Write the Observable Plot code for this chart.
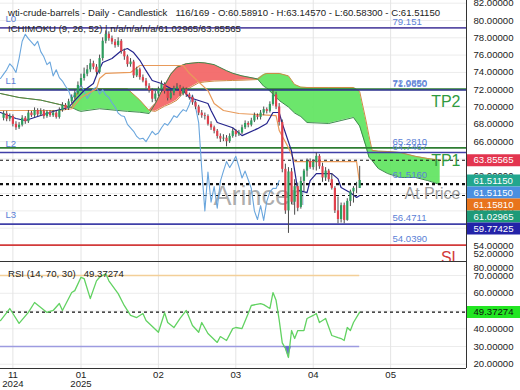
<!DOCTYPE html>
<html><head><meta charset="utf-8">
<script src="https://cdn.jsdelivr.net/npm/d3@7"></script>
<script src="https://cdn.jsdelivr.net/npm/@observablehq/plot@0.6"></script>
<style>
body{margin:0;background:#fff;font-family:"Liberation Sans",Arial,sans-serif;}
#wrap{position:relative;width:520px;height:390px;overflow:hidden;background:#fff;}
#wrap svg{display:block;}
.t{position:absolute;left:8px;font-size:9.6px;line-height:12px;color:#222;white-space:pre;}
</style></head><body>
<div id="wrap"></div>
<script>
// ---------- data ----------
const open = [68.7,69.2,68.6,68.9,68.0,67.6,67.9,68.7,68.3,69.3, 69.0,69.6,69.1,69.5,68.9,69.4,69.0,69.3,68.8,69.6, 70.2,69.8,70.6,71.1,71.6,72.5,73.3,73.8,74.3,75.0, 74.6,74.0,75.6,77.6,78.4,77.9,77.5,77.1,77.6,76.4, 75.8,74.9,75.2,73.6,74.3,73.4,73.0,72.4,71.9,70.9, 71.5,72.0,72.6,71.8,71.0,71.6,72.1,72.3,71.5,72.0, 71.4,71.1,70.5,70.0,69.3,69.0,68.9,68.0,67.6,67.2, 66.6,66.3,66.4,66.0,66.6,67.2,66.8,67.0,67.6,68.1, 67.9,68.4,69.0,68.8,69.3,69.7,69.5,70.3,71.4,70.0, 68.2,62.8,58.0,62.5,59.0,60.8,58.4,61.4,62.6,63.7, 63.0,63.6,64.3,63.1,61.8,62.6,61.6,60.6,58.0,57.0, 58.6,56.9,59.1,60.2,60.6,60.5891];
const high = [69.5,69.5,69.2,69.1,68.3,68.2,69.0,68.9,69.6,69.5, 69.9,69.8,69.8,69.7,69.6,69.6,69.6,69.5,69.9,70.5, 70.4,70.9,71.4,72.0,72.9,73.8,74.5,74.8,75.5,75.3, 74.9,76.0,78.0,78.8,78.7,78.2,77.8,78.0,77.8,76.7, 76.0,75.6,75.4,74.6,74.5,73.7,73.3,72.7,72.1,71.8, 72.3,73.0,72.8,72.0,71.9,72.4,72.7,72.5,72.3,72.2, 71.6,71.3,70.7,70.2,69.6,69.3,69.1,68.3,67.8,67.4, 66.9,66.8,66.7,66.9,67.5,67.4,67.3,67.9,68.4,68.3, 68.7,69.3,69.2,69.6,70.0,69.9,70.6,72.0,71.7,70.4, 68.5,63.4,63.0,62.9,61.6,61.2,61.9,62.8,64.0,64.0, 63.9,64.7,64.5,63.5,63.0,62.8,62.3,60.8,59.6,58.9, 58.9,59.4,60.4,60.8,61.3,63.1457];
const low = [68.4,68.3,68.3,67.7,67.3,67.4,67.7,68.0,68.1,68.8, 68.8,68.9,68.9,68.6,68.7,68.8,68.8,68.6,68.6,69.4, 69.6,69.6,70.4,70.9,71.4,72.2,73.0,73.5,74.0,74.3, 73.6,73.8,75.3,77.3,77.6,77.2,76.8,76.9,76.1,75.4, 74.6,74.6,73.3,73.4,73.1,72.8,72.1,71.6,70.5,70.6, 71.2,71.7,71.5,70.7,70.8,71.3,71.8,71.2,71.3,71.1, 70.8,70.2,69.7,69.0,68.7,68.5,67.8,67.3,66.9,66.3, 65.9,66.0,65.4,65.8,66.4,66.5,66.6,66.8,67.4,67.6, 67.7,68.2,68.5,68.5,69.0,69.2,69.3,70.1,69.7,67.8, 62.4,57.6,55.4,58.7,57.5,57.9,58.2,60.2,61.9,62.8, 62.7,62.6,62.8,61.3,61.4,61.3,60.4,57.7,56.5,56.6, 56.5,56.8,58.5,58.9,60.0,60.583];
const close = [69.2,68.6,68.9,68.0,67.6,67.9,68.7,68.3,69.3,69.0, 69.6,69.1,69.5,68.9,69.4,69.0,69.3,68.8,69.6,70.2, 69.8,70.6,71.1,71.6,72.5,73.3,73.8,74.3,75.0,74.6, 74.0,75.6,77.6,78.4,77.9,77.5,77.1,77.6,76.4,75.8, 74.9,75.2,73.6,74.3,73.4,73.0,72.4,71.9,70.9,71.5, 72.0,72.6,71.8,71.0,71.6,72.1,72.3,71.5,72.0,71.4, 71.1,70.5,70.0,69.3,69.0,68.9,68.0,67.6,67.2,66.6, 66.3,66.4,66.0,66.6,67.2,66.8,67.0,67.6,68.1,67.9, 68.4,69.0,68.8,69.3,69.7,69.5,70.3,71.4,70.0,68.2, 62.8,58.0,62.5,59.0,60.8,58.3,61.4,62.6,63.7,63.0, 63.6,64.3,63.1,61.8,62.6,61.6,60.6,58.0,57.0,58.6, 56.9,59.1,60.2,60.6,60.59,61.5115];

const tenkanIdx = [-1,4,7,12,17,21,23,26,29,30,32,35,38,40,42,44,46,48,51,54,58,60,66,67,69,74,77,82,85,87,89,90,93,95,98,99,101,106,108,109,112,114,115];
const tenkanVal = [69.37,68.67,68.44,69.02,69.6,69.95,70.76,71.91,72.72,73.64,75.15,75.6,76.5,76.76,76.3,75.4,74.2,73.07,72.72,72.14,71.91,71.1,70.41,69.6,68.21,67.6,66.7,67.5,68.1,69.37,69.37,68.1,64.9,60.4,60.1,61.5,62.3,62.3,61.7,60.7,60.1,59.55,59.77425];
const kijunIdx = [-1,18,22,25,30,31,33,41,44,58,60,66,68,71,76,88,89,92,94,114,115];
const kijunVal = [69.6,69.6,69.8,71.1,72.1,73.3,73.9,74.0,74.8,74.8,73.9,71.9,70.4,69.6,69.25,69.0,67.3,65.3,63.7,63.7,61.158];
const spanIdx = [-1,5,12,18,22,24,25,31,40,44,47,49,52,54,56,59,63,65,68,72,74,77,82,84,85,89,92,94,96,98,105,109,113,115,117,118,119,121,124,128,133,137,141];
const spanA = [71.56,71.10,70.80,70.30,69.95,71.9,72.1,72.1,72.1,70.8,69.6,69.5,70.1,70.4,70.8,72.0,72.8,72.9,73.0,73.05,73.07,73.1,73.18,73.76,73.88,73.88,73.6,72.6,72.3,72.26,72.26,72.26,72.26,71.8,68.5,66.7,65.0,64.9,64.86,64.75,64.3,64.05,63.86];
const spanB = [71.56,71.10,70.80,70.30,69.95,69.6,69.5,69.8,69.5,69.4,69.25,70.4,72.5,73.8,74.6,75.0,75.15,75.1,74.9,74.2,73.9,73.6,73.25,72.4,72.2,70.76,70.0,69.3,68.9,68.21,68.10,68.44,68.79,67.8,65.5,64.2,63.82,62.9,62.32,61.86,61.86,61.5,61.03];
const chikouShift = 26;

const rsiIdx = [-1,2,3,5,8,10,12,14,16,18,19,22,23,25,26,28,30,31,33,34,37,39,41,43,45,46,50,52,53,55,57,59,61,63,64,66,69,70,72,74,75,77,79,80,83,84,86,87,88,89,90,91,92,93,94,95,97,98,100,101,102,104,106,108,109,110,111,112,113,115];
const rsiVal = [44.6,51.4,48.6,43,49.2,54.8,52,49.2,50.3,54.2,50.3,60.4,61.5,69,68.3,57,67,69,71,67,59.8,53,47.5,46.3,48.6,44.6,38,49,43.5,40.7,45.8,50.3,41.8,38,43.5,37.3,32.3,35.6,33.4,40.1,40.7,40.1,48.6,53.1,54.2,53.6,51.4,60.4,56,45,32,29,23.8,39,34.5,39,39,45.8,47.5,48.6,43.5,45.8,36.2,35,34.5,33.4,40.7,39,43.5,49.37274];
const rsiLast = 49.37274;
const rsiBands = [70, 30];

const monthIdx = [3, 25, 50, 75, 100, 125];
const monthLbl = ["11\n2024", "01\n2025", "02", "03", "04", "05"];
const priceTicks = [52,54,56,58,60,62,64,66,68,70,72,74,76,78,80,82];
const rsiTicks = [20,30,40,60,70,80];
const rsiGrid = [20,30,40,50,60,70];

const levelVals = [79.151, 72.085, 71.965, 65.281, 64.7467, 61.516, 56.4711, 54.039];
const levelTxt = ["79.151","72.0850","71.9650","65.2810","64.7467","61.5160","56.4711","54.0390"];
const levelLine = [true, true, true, true, true, false, true, true];
const levelColor = ["#5b4fa6","#2e7d32","#2a2f8f","#2e7d32","#4040a8","none","#4040a8","#d23a3a"];
const lNames = ["L0","L1","L2","L3"];
const lVals = [79.151, 71.965, 64.7467, 56.4711];
const markNames = ["TP2","TP1","At Price","SL"];
const markVals = [72.085, 65.281, 61.516, 54.039];
const markColor = ["#2e9a3e","#2e9a3e","#9a9a9a","#d23a3a"];
const dottedVals = [63.85565, 61.1581, 61.02965, 59.77425];
const tagVals = [63.85565, 61.5115, 61.5115, 61.1581, 61.02965, 59.77425];
const tagColor = ["#e3354f","#22a68e","#4a8fe0","#e8741c","#1d9a78","#2323a8"];

// ---------- layout ----------
const W = 520, MR = 54, PW = W - MR;
const MAIN_H = 261, RSI_H = 129, RSI_MB = 22;
const xDomain = [-1, 149.5];
const yMain = [52.15, 82.31];
const yRsi = [17.6, 77.9];
const pxMain = MAIN_H / (yMain[1] - yMain[0]);
const pxRsi = (RSI_H - RSI_MB) / (yRsi[1] - yRsi[0]);
const FONT = "'Liberation Sans', Arial, sans-serif";
const xs = Plot.scale({x: {domain: xDomain, range: [0, PW]}});
const xBoxL = xs.invert(PW + 1), xBoxR = xs.invert(W);
const lastIdx = close.length - 1;

const candles = close.map((c, k) => ({i: k, o: open[k], h: high[k], l: low[k], c}));
const cloud = spanIdx.map((k, j) => ({i: k, a: spanA[j], b: spanB[j]}));
const tenkan = tenkanIdx.map((k, j) => ({i: k, v: tenkanVal[j]}));
const kijun = kijunIdx.map((k, j) => ({i: k, v: kijunVal[j]}));
const chikou = close.map((c, k) => ({i: k - chikouShift, v: c})).filter(d => d.i >= -1);
const rsi = rsiIdx.map((k, j) => ({i: k, v: rsiVal[j]}));
const levels = levelVals.map((v, k) => ({v, t: levelTxt[k], line: levelLine[k], col: levelColor[k]}));
let prevTag = Infinity;
const tags = tagVals.map((v, k) => {
  const ly = Math.min(v, prevTag - 12 / pxMain); prevTag = ly;
  return {v, ly, col: tagColor[k], t: v.toFixed(5)};
});
const months = monthIdx.map((i, k) => ({i, t: monthLbl[k]}));

const up = "#2e9d5e", down = "#e0404c";

const main = Plot.plot({
  width: W, height: MAIN_H,
  marginLeft: 0, marginRight: MR, marginTop: 0, marginBottom: 0,
  x: {domain: xDomain, axis: null},
  y: {domain: yMain, axis: null},
  color: {type: "identity"},
  style: {fontFamily: FONT, overflow: "hidden", background: "#fff"},
  marks: [
    Plot.ruleY(priceTicks, {stroke: "#ececec"}),
    Plot.ruleX(monthIdx, {stroke: "#e4e4e4"}),
    Plot.areaY(cloud, {x: "i", y1: "b", y2: d => Math.max(d.a, d.b), fill: "#5fe45f", fillOpacity: 0.92}),
    Plot.areaY(cloud, {x: "i", y1: "a", y2: d => Math.max(d.a, d.b), fill: "#f36464", fillOpacity: 0.92}),
    Plot.lineY(cloud, {x: "i", y: "a", stroke: "#cf8a45", strokeWidth: 1}),
    Plot.lineY(cloud, {x: "i", y: "b", stroke: "#3d8a4c", strokeWidth: 1}),
    Plot.text(["Arincen"], {frameAnchor: "middle", textAnchor: "start", dx: -20, dy: 65, fontSize: 27, fill: "#777", fillOpacity: 0.6}),
    Plot.ruleY(levels.filter(d => d.line), {y: "v", stroke: d => d.col, strokeWidth: 1.6}),
    Plot.ruleY(dottedVals, {stroke: "#111", strokeDasharray: "3,3", strokeWidth: 1.1}),
    Plot.lineY(chikou, {x: "i", y: "v", stroke: "#6aa6dd", strokeWidth: 1.1}),
    Plot.lineY(kijun, {x: "i", y: "v", stroke: "#e89a5a", strokeWidth: 1.2}),
    Plot.lineY(tenkan, {x: "i", y: "v", stroke: "#23238c", strokeWidth: 1.2}),
    Plot.ruleX(candles, {x: "i", y1: "l", y2: "h", stroke: "#4a4a4a", strokeWidth: 1}),
    Plot.ruleX(candles, {x: "i", y1: "o", y2: "c", stroke: d => d.c >= d.o ? up : down, strokeWidth: 2.2}),
    Plot.text(levels, {y: "v", text: "t", frameAnchor: "right", textAnchor: "start", dx: -74, dy: -6, fontSize: 9.6, fill: "#5b7fd6"}),
    Plot.text(lNames, {y: (d, k) => lVals[k], text: d => d, frameAnchor: "left", textAnchor: "start", dx: 5, dy: -9, fontSize: 9.6, fill: "#5b7fd6"}),
    Plot.text(markNames, {y: (d, k) => markVals[k], text: d => d, frameAnchor: "right", textAnchor: "end", dx: -6, dy: 13, fontSize: 16, fill: (d, k) => markColor[k]}),
    Plot.ruleX([xDomain[1]], {stroke: "#333"}),
    Plot.text(priceTicks, {x: xDomain[1], y: d => Math.max(d, yMain[0] + 8 / pxMain), text: d => d.toFixed(5), textAnchor: "start", dx: 7, fontSize: 9.6, fill: "#222"}),
    Plot.ruleY(tags, {y: "ly", x1: xBoxL, x2: xBoxR, stroke: "col", strokeWidth: 12}),
    Plot.text(tags, {x: xDomain[1], y: "ly", text: "t", textAnchor: "start", dx: 7, fontSize: 9.6, fill: "#fff"})
  ]
});

const rsiPlot = Plot.plot({
  width: W, height: RSI_H,
  marginLeft: 0, marginRight: MR, marginTop: 0, marginBottom: RSI_MB,
  x: {domain: xDomain, axis: null},
  y: {domain: yRsi, axis: null},
  style: {fontFamily: FONT, overflow: "hidden", background: "#fff"},
  marks: [
    Plot.ruleY(rsiGrid, {stroke: "#ececec"}),
    Plot.ruleX(monthIdx, {stroke: "#e4e4e4"}),
    Plot.ruleY([rsiBands[0]], {x1: rsiIdx[0], x2: lastIdx, stroke: "#f3cf98", strokeWidth: 1.3}),
    Plot.ruleY([rsiBands[1]], {x1: rsiIdx[0], x2: lastIdx, stroke: "#9d9be0", strokeWidth: 1.3}),
    Plot.areaY(rsi, {x: "i", y1: rsiBands[1], y2: d => Math.min(d.v, rsiBands[1]), fill: "#6d6dd6"}),
    Plot.ruleY([rsiLast], {stroke: "#111", strokeDasharray: "3,3", strokeWidth: 1.1}),
    Plot.lineY(rsi, {x: "i", y: "v", stroke: "#62d262", strokeWidth: 1.3}),
    Plot.ruleY([yRsi[1]], {stroke: "#333"}),
    Plot.ruleY([yRsi[0]], {stroke: "#333"}),
    Plot.ruleX([xDomain[1]], {stroke: "#333"}),
    Plot.text(rsiTicks, {x: xDomain[1], y: d => Math.min(d, yRsi[1] - 6 / pxRsi), text: d => d.toFixed(5), textAnchor: "start", dx: 7, fontSize: 9.6, fill: "#222"}),
    Plot.ruleY([rsiLast], {x1: xBoxL, x2: xBoxR, stroke: "#22e622", strokeWidth: 12}),
    Plot.text([rsiLast], {x: xDomain[1], y: d => d, text: d => d.toFixed(5), textAnchor: "start", dx: 7, fontSize: 9.6, fill: "#111"}),
    Plot.text(months, {x: "i", text: "t", frameAnchor: "bottom", lineAnchor: "top", dy: 3, fontSize: 9.6, lineHeight: 0.95, fill: "#222"})
  ]
});

const wrap = document.getElementById("wrap");
wrap.appendChild(main);
wrap.appendChild(rsiPlot);
const addText = (txt, top) => {
  const d = document.createElement("div");
  d.className = "t"; d.style.top = top + "px"; d.textContent = txt; wrap.appendChild(d);
};
addText("wti-crude-barrels - Daily - Candlestick   116/169 - O:60.58910 - H:63.14570 - L:60.58300 - C:61.51150", 7);
addText("ICHIMOKU (9, 26, 52) | n/a/n/a/n/a/61.02965/63.85565", 23);
addText("RSI (14, 70, 30)   49.37274", 268);
</script></body></html>
